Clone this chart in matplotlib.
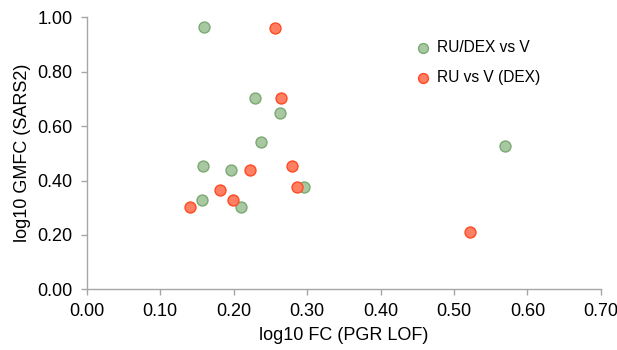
import matplotlib
matplotlib.use("Agg")
import matplotlib.pyplot as plt
from matplotlib.ticker import FormatStrFormatter

plt.rcParams['font.family'] = ['Liberation Sans', 'DejaVu Sans']

green_x = [0.160, 0.2295, 0.263, 0.237, 0.158, 0.196, 0.157, 0.2105, 0.296, 0.569]
green_y = [0.963, 0.702, 0.647, 0.542, 0.453, 0.4375, 0.328, 0.304, 0.377, 0.527]
red_x = [0.257, 0.2645, 0.2795, 0.286, 0.222, 0.181, 0.199, 0.1407, 0.5215]
red_y = [0.960, 0.702, 0.453, 0.377, 0.4375, 0.364, 0.328, 0.304, 0.212]

labels = ["RU/DEX vs V", "RU vs V (DEX)"]
x_label = "log10 FC (PGR LOF)"
y_label = "log10 GMFC (SARS2)"

fig = plt.figure(figsize=(6.17, 3.5), dpi=100)
ax = fig.add_axes([0.1404, 0.1734, 0.974 - 0.1404, 0.9506 - 0.1734])

ax.scatter(green_x, green_y, s=62, facecolor='#a8c8a2', edgecolor='#7aa972',
           linewidth=1.0, label=labels[0], zorder=3)
ax.scatter(red_x, red_y, s=62, facecolor='#ff7f63', edgecolor='#ff4a24',
           linewidth=1.0, label=labels[1], zorder=3)

ax.set_xlim(0, 0.70)
ax.set_ylim(0, 1.0)
ax.set_xticks([i / 10 for i in range(8)])
ax.set_yticks([i / 5 for i in range(6)])
ax.xaxis.set_major_formatter(FormatStrFormatter('%.2f'))
ax.yaxis.set_major_formatter(FormatStrFormatter('%.2f'))

for s in ['top', 'right']:
    ax.spines[s].set_visible(False)
for s in ['left', 'bottom']:
    ax.spines[s].set_color('#a6a6a6')
    ax.spines[s].set_linewidth(1.0)
ax.tick_params(axis='both', colors='#a6a6a6', labelcolor='black',
               labelsize=13, length=4, width=1.0, direction='out')
ax.tick_params(axis='x', pad=6)
ax.tick_params(axis='y', pad=6)

ax.set_xlabel(x_label, fontsize=13, labelpad=5)
ax.set_ylabel(y_label, fontsize=13, labelpad=5)

leg = ax.legend(loc='upper left', bbox_to_anchor=(415 / 617, 1 - 40 / 350),
                bbox_transform=fig.transFigure, frameon=False, fontsize=11.2,
                handlelength=1.0, handletextpad=0.4, labelspacing=0.95,
                borderpad=0, borderaxespad=0, scatterpoints=1, markerscale=0.9)

fig.savefig("out.png", dpi=100)
